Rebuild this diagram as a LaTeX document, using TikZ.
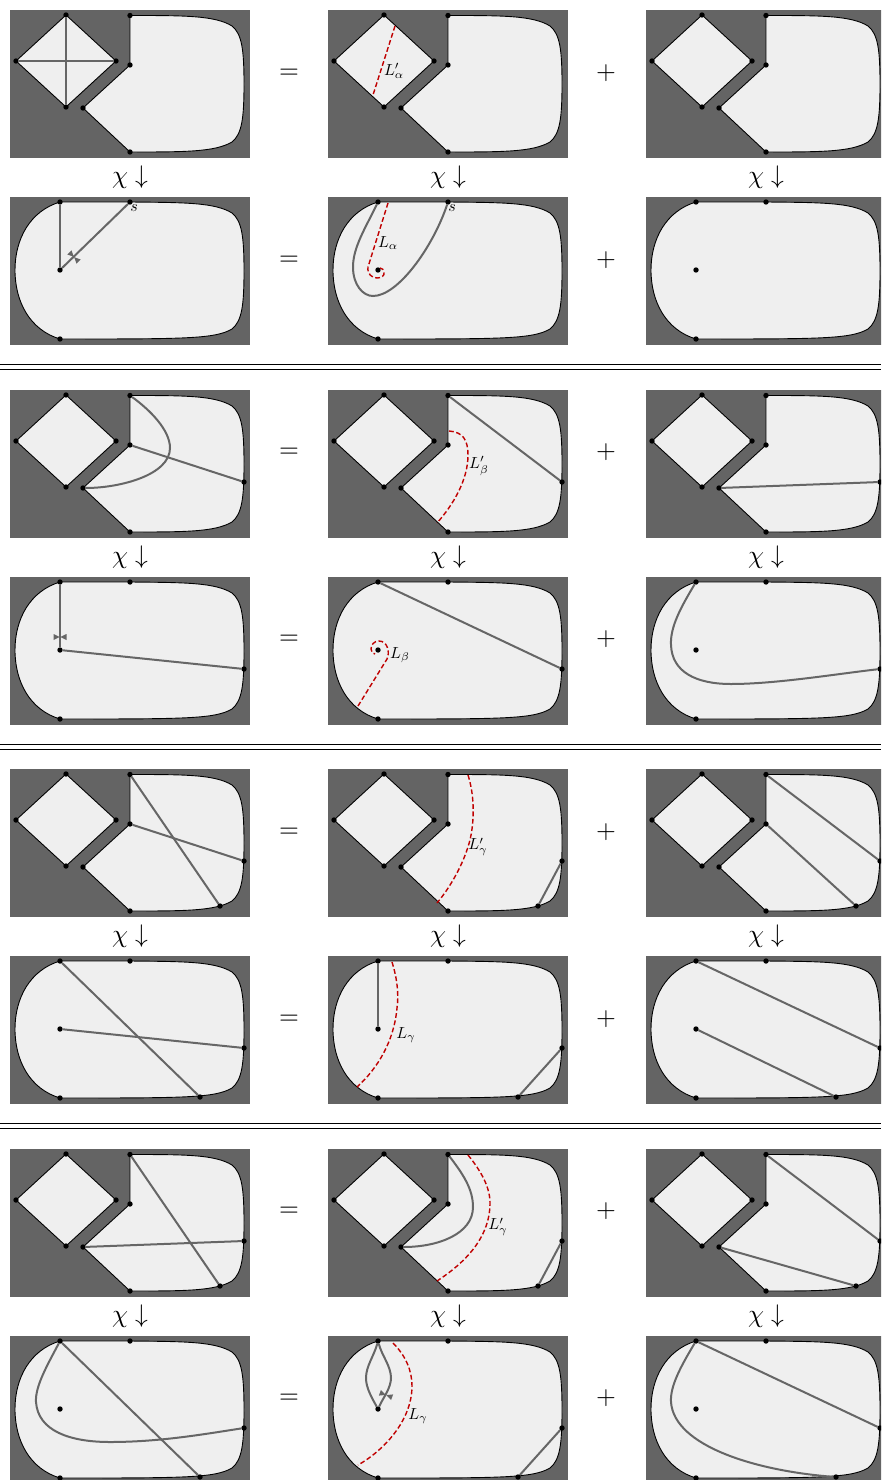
\documentclass[tikz,border=0pt]{standalone}
\definecolor{panelgray}{HTML}{646464}
\definecolor{regionfill}{HTML}{EFEFEF}
\definecolor{arcgray}{HTML}{666666}
\definecolor{laminred}{HTML}{C00000}
\tikzset{
  panelbg/.style={fill=panelgray,draw=none},
  region/.style={fill=regionfill,draw=black,line width=0.9pt},
  pt/.style={circle,fill=black,inner sep=0pt,outer sep=0pt,minimum size=5.4pt},
  gcurve/.style={draw=arcgray,line width=2pt},
  lam/.style={draw=laminred,line width=1.4pt,dash pattern=on 4.8pt off 2.6pt},
  lab/.style={scale=1.6,inner sep=0pt},
  big/.style={scale=2.55,inner sep=0pt},
  ruleline/.style={draw=black,line width=0.9pt}
}
\newcommand{\rightside}{ .. controls (175,5.5) and (205,5.5) .. (222,16) .. controls (232,24) and (234,40) .. (234,74) .. controls (234,108) and (232,124) .. (222,132) .. controls (205,142) and (175,142) .. }
\newcommand{\uppanel}[3]{%
  \begin{scope}[shift={(#1,#2)}]
    \fill[panelbg] (0,0) rectangle (240,148);
    \draw[region] (56,5) -- (106,51) -- (56,97) -- (6,51) -- cycle;
    \draw[region] (120,5.5) \rightside (120,142) -- (73,98) -- (120,55) -- cycle;
    \node[pt] (dT) at (56,5) {};
    \node[pt] (dL) at (6,51) {};
    \node[pt] (dR) at (106,51) {};
    \node[pt] (dB) at (56,97) {};
    \node[pt] (a) at (120,5.5) {};
    \node[pt] (b) at (120,55) {};
    \node[pt] (c) at (73,98) {};
    \node[pt] (d) at (120,142) {};
    #3
  \end{scope}}
\newcommand{\lowpanel}[3]{%
  \begin{scope}[shift={(#1,#2)}]
    \fill[panelbg] (0,0) rectangle (240,148);
    \draw[region] (50,5) -- (120,5) \rightside (50,142) .. controls (20,133) and (5,105) .. (5,73) .. controls (5,42) and (20,14) .. cycle;
    \node[pt] (T) at (50,5) {};
    \node[pt] (s) at (120,5) {};
    \node[pt] (B) at (50,142) {};
    \node[pt] (p) at (50,73) {};
    #3
  \end{scope}}
\newcommand{\tiemark}[3]{%
  \begin{scope}[shift={(#1,#2)},rotate=#3]
    \fill[arcgray] (0.3,0) -- (6.5,3) -- (6.5,-3) -- cycle;
    \fill[arcgray] (-0.3,0) -- (-6.5,3) -- (-6.5,-3) -- cycle;
  \end{scope}}
\newcommand{\rqup}{\node[pt] (r) at (234,92) {};\node[pt] (q) at (210,137) {};}
\newcommand{\rqlow}{\node[pt] (r) at (234,92) {};\node[pt] (q) at (190,141) {};}
\newcommand{\ronly}{\node[pt] (r) at (234,92) {};}
\newcommand{\rowmarks}[4]{%
  \node[big] (eq#1) at (289,#2) {$=$};
  \node[big] (pl#1) at (606,#2) {$+$};
  \node[big] (eqb#1) at (289,#3) {$=$};
  \node[big] (plb#1) at (606,#3) {$+$};
  \node[big] (chia#1) at (130,#4) {$\chi\downarrow$};
  \node[big] (chib#1) at (448,#4) {$\chi\downarrow$};
  \node[big] (chic#1) at (766,#4) {$\chi\downarrow$};}
\begin{document}
\begin{tikzpicture}[x=1pt,y=-1pt]
\useasboundingbox (0,0) rectangle (881,1480);
\clip (0,0) rectangle (881,1480);
\fill[white] (0,0) rectangle (881,1480);
% double rules
\foreach \yy in {364.5,369.5,744,749,1123.5,1128.5} \draw[ruleline] (0,\yy) -- (881,\yy);
% marks
\rowmarks{1}{73.5}{260.5}{177}
\rowmarks{2}{452.5}{639.5}{557}
\rowmarks{3}{832.5}{1019.5}{936}
\rowmarks{4}{1211.5}{1398.5}{1316}
% ===== group 1
\uppanel{10}{10}{\draw[gcurve] (dT) -- (dB); \draw[gcurve] (dL) -- (dR);}
\uppanel{328}{10}{\coordinate (e1) at (67,16); \coordinate (e2) at (45,85);
  \draw[lam] (e1) -- (e2); \node[lab] (l1) at (66,61) {$L'_\alpha$};}
\uppanel{646}{10}{}
\lowpanel{10}{197}{\draw[gcurve] (T) -- (p); \draw[gcurve] (s) -- (p); \tiemark{64}{60}{-45}
  \node[lab] (l2) at (124,11) {$s$};}
\lowpanel{328}{197}{
  \draw[gcurve] (T) .. controls (38,30) and (25,50) .. (25,70) .. controls (25,88) and (35,99) .. (45,99) .. controls (70,99) and (105,50) .. (s);
  \coordinate (e3) at (60,6);
  \draw[lam] (e3) -- (40,70) .. controls (39,77) and (44,81) .. (49,81) .. controls (53,81) and (57,79) .. (56,75) .. controls (56,73) and (54,71) .. (52,71);
  \node[lab] (l3) at (60,46) {$L_\alpha$};
  \node[lab] (l4) at (124,11) {$s$};}
\lowpanel{646}{197}{}
% ===== group 2
\uppanel{10}{390}{\ronly
  \draw[gcurve] (a) .. controls (140,20) and (160,40) .. (160,58) .. controls (160,85) and (110,98) .. (c);
  \draw[gcurve] (b) -- (r);}
\uppanel{328}{390}{\ronly
  \draw[gcurve] (a) -- (r);
  \coordinate (e4) at (121,41); \coordinate (e5) at (109,133);
  \draw[lam] (e4) .. controls (135,42) and (140,50) .. (140,65) .. controls (140,90) and (125,115) .. (e5);
  \node[lab] (l5) at (151,76) {$L'_\beta$};}
\uppanel{646}{390}{\ronly \draw[gcurve] (c) -- (r);}
\lowpanel{10}{577}{\ronly
  \draw[gcurve] (T) -- (p); \draw[gcurve] (p) -- (r); \tiemark{50}{60}{0}}
\lowpanel{328}{577}{\ronly
  \draw[gcurve] (T) -- (r);
  \coordinate (e6) at (30,129);
  \draw[lam] (e6) -- (59,82) .. controls (62,76) and (60,64) .. (51,64) .. controls (46,64) and (43,68) .. (43,72) .. controls (43,75) and (45,77) .. (47,77);
  \node[lab] (l6) at (72,78) {$L_\beta$};}
\lowpanel{646}{577}{\ronly
  \draw[gcurve] (T) .. controls (35,30) and (24,50) .. (25,68) .. controls (26,95) and (50,107) .. (85,107) .. controls (130,107) and (190,97) .. (r);}
% ===== group 3
\uppanel{10}{769}{\rqup \draw[gcurve] (a) -- (q); \draw[gcurve] (b) -- (r);}
\uppanel{328}{769}{\rqup \draw[gcurve] (r) -- (q);
  \coordinate (e7) at (140,6); \coordinate (e8) at (109,134);
  \draw[lam] (e7) .. controls (146,25) and (146,45) .. (144,60) .. controls (141,85) and (125,115) .. (e8);
  \node[lab] (l7) at (150,78) {$L'_\gamma$};}
\uppanel{646}{769}{\rqup \draw[gcurve] (a) -- (r); \draw[gcurve] (b) -- (q);}
\lowpanel{10}{956}{\rqlow \draw[gcurve] (T) -- (q); \draw[gcurve] (p) -- (r);}
\lowpanel{328}{956}{\rqlow \draw[gcurve] (T) -- (p); \draw[gcurve] (r) -- (q);
  \coordinate (e9) at (64,6); \coordinate (e10) at (29,131);
  \draw[lam] (e9) .. controls (69,22) and (71,38) .. (69,52) .. controls (66,85) and (50,112) .. (e10);
  \node[lab] (l8) at (78,79) {$L_\gamma$};}
\lowpanel{646}{956}{\rqlow \draw[gcurve] (T) -- (r); \draw[gcurve] (p) -- (q);}
% ===== group 4
\uppanel{10}{1149}{\rqup \draw[gcurve] (a) -- (q); \draw[gcurve] (c) -- (r);}
\uppanel{328}{1149}{\rqup \draw[gcurve] (r) -- (q);
  \draw[gcurve] (a) .. controls (135,25) and (145,40) .. (145,58) .. controls (145,85) and (110,98) .. (c);
  \coordinate (e11) at (140,6); \coordinate (e12) at (109,132);
  \draw[lam] (e11) .. controls (153,22) and (162,38) .. (162,54) .. controls (162,90) and (135,115) .. (e12);
  \node[lab] (l9) at (170,78) {$L'_\gamma$};}
\uppanel{646}{1149}{\rqup \draw[gcurve] (a) -- (r); \draw[gcurve] (c) -- (q);}
\lowpanel{10}{1336}{\rqlow \draw[gcurve] (T) -- (q);
  \draw[gcurve] (T) .. controls (38,28) and (25,50) .. (26,66) .. controls (28,95) and (60,106) .. (100,106) .. controls (150,106) and (195,98) .. (r);}
\lowpanel{328}{1336}{\rqlow \draw[gcurve] (r) -- (q);
  \draw[gcurve] (T) .. controls (46,20) and (38,30) .. (38,42) .. controls (38,52) and (44,62) .. (p);
  \draw[gcurve] (T) .. controls (54,20) and (63,30) .. (63,42) .. controls (63,52) and (55,62) .. (p);
  \tiemark{58}{59}{-20}
  \coordinate (e13) at (65,7); \coordinate (e14) at (30,129);
  \draw[lam] (e13) .. controls (78,20) and (84,35) .. (84,50) .. controls (84,85) and (55,115) .. (e14);
  \node[lab] (l10) at (90,80) {$L_\gamma$};}
\lowpanel{646}{1336}{\rqlow \draw[gcurve] (T) -- (r);
  \draw[gcurve] (T) .. controls (35,30) and (24,50) .. (25,66) .. controls (28,110) and (110,135) .. (q);}
\end{tikzpicture}
\end{document}
